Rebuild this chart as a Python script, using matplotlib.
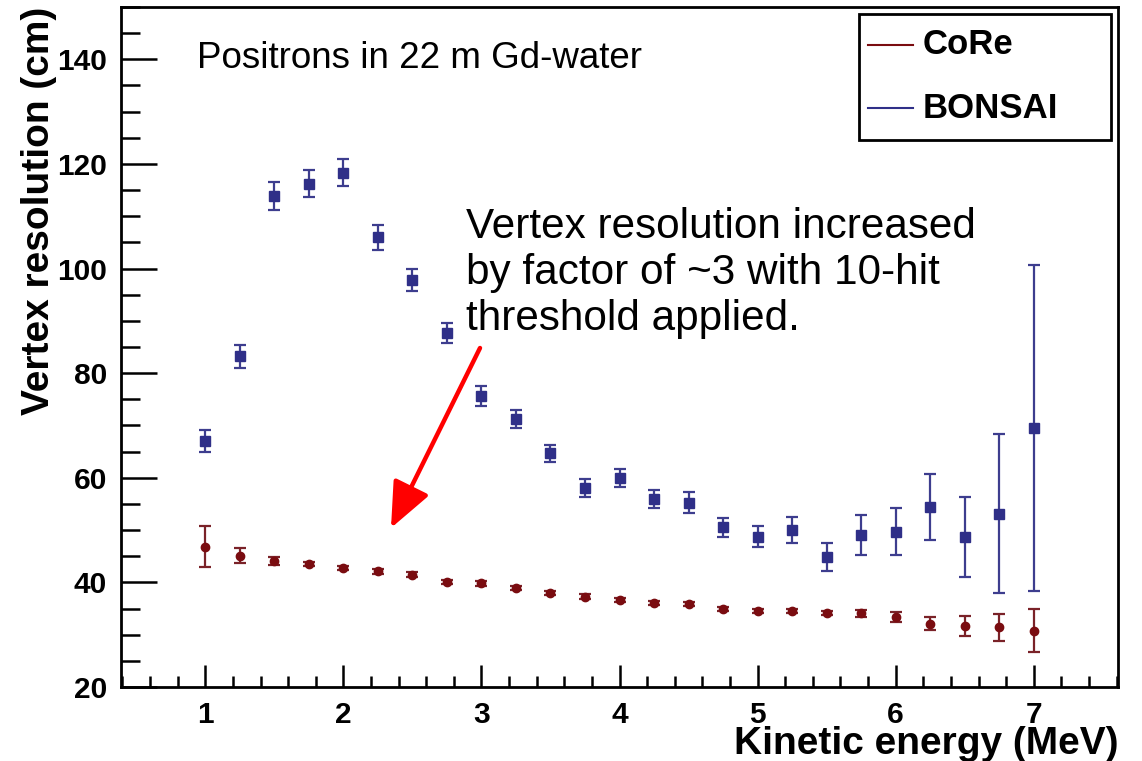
import numpy as np
import matplotlib
matplotlib.use('Agg')
import matplotlib.pyplot as plt
from matplotlib.ticker import MultipleLocator
from matplotlib.lines import Line2D
from matplotlib.patches import Rectangle

plt.rcParams['font.family'] = ['Liberation Sans', 'DejaVu Sans']

# kinetic energy bins (MeV)
energy = [1.0, 1.25, 1.5, 1.75, 2.0, 2.25, 2.5, 2.75, 3.0, 3.25, 3.5, 3.75, 4.0,
          4.25, 4.5, 4.75, 5.0, 5.25, 5.5, 5.75, 6.0, 6.25, 6.5, 6.75, 7.0]

# BONSAI vertex resolution (cm) and errors
bonsai = [67.1, 83.2, 113.9, 116.2, 118.3, 106.0, 97.9, 87.6, 75.7, 71.2, 64.7, 58.0, 60.0,
          55.9, 55.2, 50.5, 48.7, 50.1, 44.9, 49.1, 49.7, 54.5, 48.7, 53.1, 69.5]
bonsai_err = [2.1, 2.2, 2.7, 2.6, 2.6, 2.4, 2.1, 1.9, 1.9, 1.75, 1.6, 1.7, 1.75,
              1.75, 2.0, 1.9, 2.0, 2.5, 2.7, 3.8, 4.5, 6.3, 7.7, 15.2, 31.1]

# CoRe vertex resolution (cm) and errors
core = [46.8, 45.1, 44.1, 43.5, 42.8, 42.1, 41.5, 40.1, 39.8, 39.0, 38.0, 37.3, 36.6,
        36.0, 35.9, 34.9, 34.5, 34.5, 34.2, 34.1, 33.4, 32.1, 31.7, 31.4, 30.8]
core_err = [3.9, 1.4, 0.7, 0.4, 0.4, 0.4, 0.4, 0.4, 0.4, 0.4, 0.4, 0.4, 0.4,
            0.4, 0.4, 0.4, 0.4, 0.4, 0.4, 0.7, 1.0, 1.25, 1.9, 2.6, 4.1]

labels = ['CoRe', 'BONSAI']
xticks = [1, 2, 3, 4, 5, 6, 7]
yticks = [20, 40, 60, 80, 100, 120, 140]

blue = '#2f2f88'
red = '#7a0c10'

W, H = 1142, 761
fig = plt.figure(figsize=(W / 100, H / 100), dpi=100)
ax = fig.add_axes([0.106, 0.0972, 0.873, 0.8936])

ax.errorbar(energy, bonsai, yerr=bonsai_err, fmt='s', color=blue, ms=6.5,
            elinewidth=1.6, capsize=4, capthick=1.6, ecolor='#3d3d8e')
ax.errorbar(energy, core, yerr=core_err, fmt='o', color=red, ms=6,
            elinewidth=1.6, capsize=4, capthick=1.6, ecolor='#7a2228')

ax.set_xlim(0.39, 7.61)
ax.set_ylim(20, 150)
ax.xaxis.set_minor_locator(MultipleLocator(0.2))
ax.yaxis.set_minor_locator(MultipleLocator(5))
ax.set_xticks(xticks)
ax.set_xticklabels([str(t) for t in xticks], fontsize=21.5, fontweight='bold')
ax.set_yticks(yticks)
ax.set_yticklabels([str(t) for t in yticks], fontsize=21.5, fontweight='bold')
ax.tick_params(which='both', direction='in', width=1.8, colors='black',
               top=False, right=False)
ax.tick_params(axis='x', which='major', length=16, pad=10)
ax.tick_params(axis='x', which='minor', length=8)
ax.tick_params(axis='y', which='major', length=26, pad=10)
ax.tick_params(axis='y', which='minor', length=14)
for s in ax.spines.values():
    s.set_linewidth(2)

ax.set_xlabel('Kinetic energy (MeV)', fontsize=28, fontweight='bold', loc='right', labelpad=-2)
ax.set_ylabel('Vertex resolution (cm)', fontsize=28, fontweight='bold', loc='top', labelpad=0)

fig.text(197 / W, 1 - 68 / H, 'Positrons in 22 m Gd-water',
         fontsize=26.5, ha='left', va='baseline')
fig.text(466 / W, 1 - 330 / H,
         'Vertex resolution increased\nby factor of ~3 with 10-hit\nthreshold applied.',
         fontsize=30.4, ha='left', va='baseline', linespacing=1.2)
ax.annotate('', xy=(391 / W, 1 - 528 / H), xytext=(480 / W, 1 - 348 / H),
            xycoords='figure fraction', textcoords='figure fraction',
            arrowprops=dict(arrowstyle='-|>,head_length=1.4,head_width=0.6', color='#ff0000',
                            lw=3.2, shrinkA=0, shrinkB=0, mutation_scale=20))

# ROOT-style legend box
fig.patches.append(Rectangle((859 / W, 1 - 140 / H), 252 / W, 126 / H,
                             transform=fig.transFigure, facecolor='white',
                             edgecolor='black', lw=2, zorder=5))
for lab, col, yy in zip(labels, [red, blue], [45, 108]):
    fig.lines.append(Line2D([868 / W, 913 / W], [1 - yy / H, 1 - yy / H],
                            transform=fig.transFigure, color=col, lw=1.5, zorder=6))
    fig.text(923 / W, 1 - yy / H, lab, fontsize=25, fontweight='bold',
             ha='left', va='center', zorder=6)

plt.savefig('out.png', dpi=100)
plt.close(fig)
